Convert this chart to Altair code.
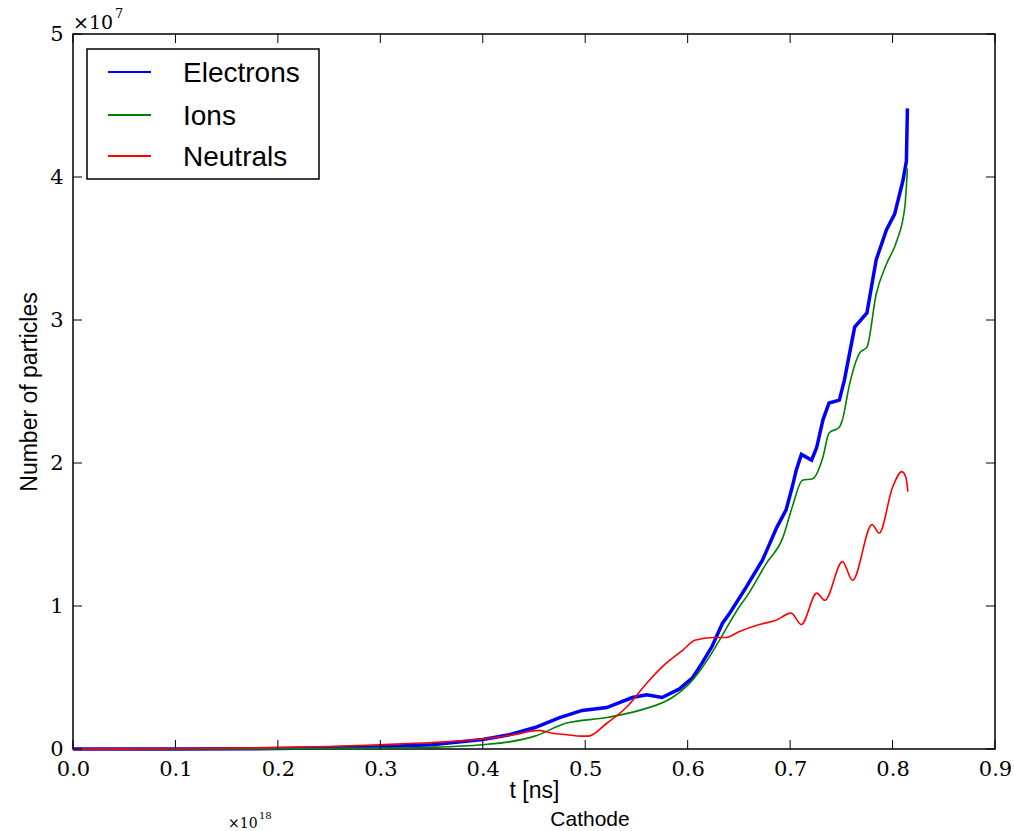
import altair as alt
import pandas as pd

# ---------------- data (values in units of 1e7 particles) ----------------
series = ["Electrons", "Ions", "Neutrals"]
colors = ["#0000ff", "#008000", "#ff0000"]

t_electrons = [0.0, 0.1, 0.2, 0.25, 0.3, 0.35, 0.4, 0.426, 0.451, 0.475, 0.497,
               0.521, 0.546, 0.560, 0.575, 0.592, 0.605, 0.614, 0.624, 0.634,
               0.641, 0.657, 0.673, 0.687, 0.696, 0.702, 0.706, 0.711, 0.721,
               0.726, 0.732, 0.738, 0.748, 0.753, 0.763, 0.775, 0.784, 0.794,
               0.802, 0.810, 0.8135, 0.8145]
n_electrons = [0.0, 0.0, 0.003, 0.008, 0.015, 0.03, 0.066, 0.10, 0.15, 0.22, 0.27,
               0.29, 0.36, 0.38, 0.36, 0.42, 0.50, 0.60, 0.72, 0.88,
               0.95, 1.13, 1.32, 1.55, 1.67, 1.83, 1.95, 2.06, 2.02,
               2.11, 2.30, 2.42, 2.44, 2.58, 2.95, 3.05, 3.42, 3.63,
               3.74, 3.97, 4.11, 4.48]

t_ions = [0.0, 0.1, 0.2, 0.3, 0.35, 0.4, 0.426, 0.451, 0.481, 0.521, 0.553,
          0.585, 0.602, 0.619, 0.631, 0.650, 0.657, 0.677, 0.693, 0.702, 0.712,
          0.722, 0.732, 0.738, 0.748, 0.751, 0.758, 0.768, 0.775, 0.784, 0.794,
          0.804, 0.812, 0.8145]
n_ions = [0.0, 0.0, 0.001, 0.006, 0.012, 0.03, 0.05, 0.09, 0.18, 0.22, 0.27,
          0.36, 0.46, 0.62, 0.76, 0.99, 1.06, 1.30, 1.48, 1.69, 1.88,
          1.89, 2.04, 2.21, 2.25, 2.30, 2.55, 2.77, 2.81, 3.18, 3.39,
          3.55, 3.79, 4.06]

t_neutrals = [0.0, 0.05, 0.1, 0.15, 0.2, 0.25, 0.3, 0.35, 0.4, 0.43, 0.455,
              0.468, 0.482, 0.496, 0.503, 0.521, 0.540, 0.560, 0.579, 0.595,
              0.607, 0.625, 0.637, 0.650, 0.670, 0.686, 0.701, 0.711, 0.726,
              0.734, 0.751, 0.761, 0.780, 0.787, 0.800, 0.809, 0.813, 0.815]
n_neutrals = [0.0, 0.001, 0.003, 0.006, 0.01, 0.018, 0.03, 0.045, 0.07, 0.10, 0.13,
              0.11, 0.10, 0.09, 0.09, 0.18, 0.29, 0.46, 0.60, 0.69,
              0.76, 0.78, 0.78, 0.82, 0.87, 0.90, 0.95, 0.87, 1.09,
              1.04, 1.31, 1.18, 1.57, 1.51, 1.83, 1.94, 1.90, 1.80]

x_ticks = [0.0, 0.1, 0.2, 0.3, 0.4, 0.5, 0.6, 0.7, 0.8, 0.9]
y_ticks = [0, 1, 2, 3, 4, 5]

x_title = "t [ns]"
y_title = "Number of particles"

# ---------------- layout ----------------
W, H = 922, 715
TICK = 9
SERIF = "DejaVu Serif"
SANS = "Liberation Sans"

df_e = pd.DataFrame({"t": t_electrons, "n": n_electrons})
df_i = pd.DataFrame({"t": t_ions, "n": n_ions})
df_n = pd.DataFrame({"t": t_neutrals, "n": n_neutrals})

x_scale = alt.Scale(domain=[0, 0.9], nice=False, zero=False)
y_scale = alt.Scale(domain=[0, 5], nice=False)

x_axis = alt.Axis(values=x_ticks, format=".1f", ticks=False, grid=False,
                  domain=False,
                  labelFont=SERIF, labelFontSize=21, labelColor="black",
                  labelPadding=9, labelFlush=False, labelOverlap=False,
                  title=x_title, titleFont=SANS, titleFontSize=23,
                  titleFontWeight="normal", titleColor="black", titlePadding=0)
y_axis = alt.Axis(values=y_ticks, format="d", ticks=False, grid=False,
                  domain=False,
                  labelFont=SERIF, labelFontSize=21, labelColor="black",
                  labelPadding=10, labelFlush=False, labelOverlap=False,
                  title=y_title, titleFont=SANS, titleFontSize=23,
                  titleFontWeight="normal", titleColor="black", titlePadding=8)


def X(field):
    return alt.X(field, scale=x_scale, axis=x_axis, title=x_title)


def Y(field):
    return alt.Y(field, scale=y_scale, axis=y_axis, title=y_title)


line_e = alt.Chart(df_e).mark_line(color=colors[0], strokeWidth=3.5).encode(
    x=X("t:Q"), y=Y("n:Q"), order="t:Q")
line_i = alt.Chart(df_i).mark_line(color=colors[1], strokeWidth=1.6,
                                   interpolate="monotone").encode(
    x=X("t:Q"), y=Y("n:Q"), order="t:Q")
line_n = alt.Chart(df_n).mark_line(color=colors[2], strokeWidth=1.6,
                                   interpolate="monotone").encode(
    x=X("t:Q"), y=Y("n:Q"), order="t:Q")

# inward ticks on all four sides
xt = pd.DataFrame({"t": x_ticks})
yt = pd.DataFrame({"n": y_ticks})
tick_bottom = alt.Chart(xt).mark_rule(color="black", strokeWidth=1).encode(
    x=X("t:Q"), y=alt.value(H), y2=alt.value(H - TICK))
tick_top = alt.Chart(xt).mark_rule(color="black", strokeWidth=1).encode(
    x=X("t:Q"), y=alt.value(0), y2=alt.value(TICK))
tick_left = alt.Chart(yt).mark_rule(color="black", strokeWidth=1).encode(
    y=Y("n:Q"), x=alt.value(0), x2=alt.value(TICK))
tick_right = alt.Chart(yt).mark_rule(color="black", strokeWidth=1).encode(
    y=Y("n:Q"), x=alt.value(W), x2=alt.value(W - TICK))

# legend box
one = pd.DataFrame({"a": [0]})
leg_box = alt.Chart(one).mark_rect(fill="white", stroke="black", strokeWidth=1.5).encode(
    x=alt.value(14), x2=alt.value(246), y=alt.value(15), y2=alt.value(145))
leg_layers = [leg_box]
row_y = [38, 81, 122]
for name, col, ry in zip(series, colors, row_y):
    leg_layers.append(
        alt.Chart(one).mark_rule(color=col, strokeWidth=2).encode(
            x=alt.value(35), x2=alt.value(78), y=alt.value(ry)))
    leg_layers.append(
        alt.Chart(one).mark_text(text=name, font=SANS, fontSize=28, align="left",
                                 baseline="alphabetic", color="black").encode(
            x=alt.value(110), y=alt.value(ry + 10)))

# offset text "x10^7"
mult = alt.Chart(one).mark_text(text="\u00d710", font=SERIF, fontSize=19, align="left",
                                baseline="alphabetic", color="black").encode(
    x=alt.value(0), y=alt.value(-5))
mult_exp = alt.Chart(one).mark_text(text="7", font=SERIF, fontSize=13, align="left",
                                    baseline="alphabetic", color="black").encode(
    x=alt.value(42), y=alt.value(-16))

# fragments of the next panel below
frag_mult = alt.Chart(one).mark_text(text="\u00d710", font=SERIF, fontSize=14, align="left",
                                     baseline="alphabetic", color="black").encode(
    x=alt.value(155), y=alt.value(794))
frag_exp = alt.Chart(one).mark_text(text="18", font=SERIF, fontSize=10, align="left",
                                    baseline="alphabetic", color="black").encode(
    x=alt.value(186), y=alt.value(785))
frag_title = alt.Chart(one).mark_text(text="Cathode", font=SANS, fontSize=21, align="center",
                                      baseline="alphabetic", color="black").encode(
    x=alt.value(517), y=alt.value(792))

chart = alt.layer(
    line_e, line_i, line_n,
    tick_bottom, tick_top, tick_left, tick_right,
    *leg_layers,
    mult, mult_exp, frag_mult, frag_exp, frag_title,
).properties(
    width=W, height=H,
    autosize=alt.AutoSizeParams(type="none"),
    padding={"left": 73, "top": 34, "right": 19, "bottom": 82},
    background="white",
).configure_view(stroke="black", strokeWidth=1.5)

chart.save("out.html", embed_options={"renderer": "svg", "actions": False})
